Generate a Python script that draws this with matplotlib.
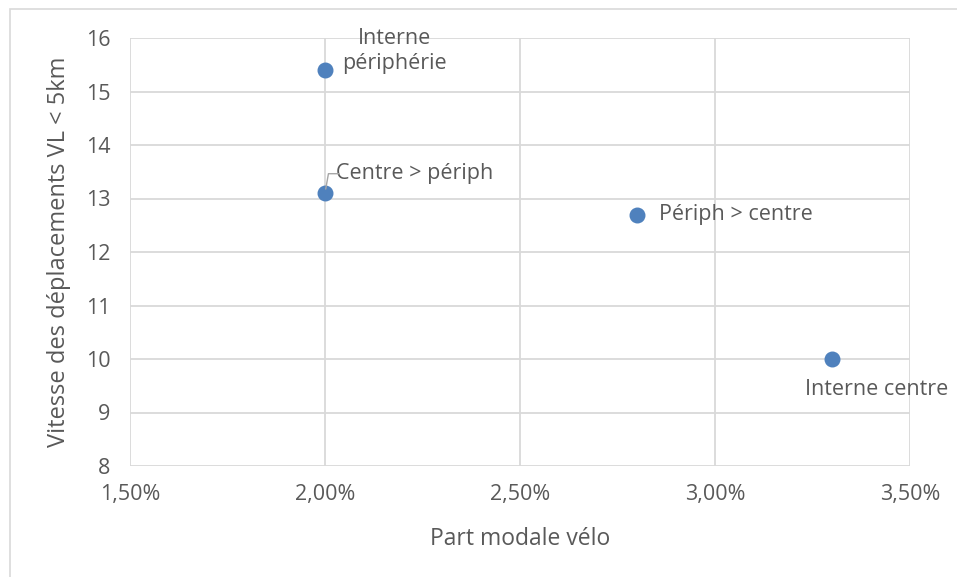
import matplotlib.pyplot as plt
from matplotlib.patches import Rectangle
from matplotlib.ticker import FuncFormatter

# Data
labels = ['Interne\npériphérie', 'Centre > périph', 'Périph > centre', 'Interne centre']
part_velo = [0.020, 0.020, 0.028, 0.033]
vitesse = [15.4, 13.1, 12.7, 10.0]

plt.rcParams['font.family'] = ['Open Sans', 'DejaVu Sans']
text_color = '#595959'
grid_color = '#d9d9d9'

fig = plt.figure(figsize=(9.57, 5.77), dpi=100)
# outer chart border (only top/left visible in the reference)
fig.patches.append(Rectangle((10 / 957, -0.1), 1.2, 1.1 - 9 / 577,
                             transform=fig.transFigure, fill=False,
                             edgecolor=grid_color, linewidth=1.2))

ax = fig.add_axes([130 / 957, 1 - 466 / 577, 780 / 957, 428 / 577])
ax.scatter(part_velo, vitesse, s=110, color='#4f81bd', zorder=3, clip_on=False)

ax.set_xlim(0.015, 0.035)
ax.set_ylim(8, 16)
ax.set_xticks([0.015, 0.020, 0.025, 0.030, 0.035])
ax.set_yticks(range(8, 17))
ax.xaxis.set_major_formatter(FuncFormatter(lambda v, p: f'{v * 100:.2f}%'.replace('.', ',')))
ax.grid(True, color=grid_color, linewidth=1.3)
ax.set_axisbelow(True)
for s in ax.spines.values():
    s.set_visible(False)
ax.tick_params(length=0, labelsize=15.5, colors=text_color)
ax.tick_params(axis='x', pad=13)
ax.tick_params(axis='y', pad=14)

ax.set_xlabel('Part modale vélo', fontsize=16.5, color=text_color, labelpad=16)
ax.set_ylabel('Vitesse des déplacements VL < 5km', fontsize=17, color=text_color, labelpad=11)

fs = 15.5
ax.annotate(labels[0], (part_velo[0], vitesse[0]), xytext=(50, 14), textcoords='offset points',
            ha='center', va='center', fontsize=fs, color=text_color, linespacing=1.25)
ax.annotate(labels[1], (part_velo[1], vitesse[1]), xytext=(8, 14), textcoords='offset points',
            ha='left', va='center', fontsize=fs, color=text_color)
# leader line
ax.annotate('', (part_velo[1], vitesse[1]), xytext=(10, 14), textcoords='offset points',
            arrowprops=dict(arrowstyle='-', color='#a6a6a6', lw=1,
                            connectionstyle='angle,angleA=0,angleB=80,rad=0', shrinkA=0, shrinkB=3))
ax.annotate(labels[2], (part_velo[2], vitesse[2]), xytext=(16, 0), textcoords='offset points',
            ha='left', va='center', fontsize=fs, color=text_color)
ax.annotate(labels[3], (part_velo[3], vitesse[3]), xytext=(32, -22), textcoords='offset points',
            ha='center', va='center', fontsize=fs, color=text_color)

fig.savefig('out.png', dpi=100)
